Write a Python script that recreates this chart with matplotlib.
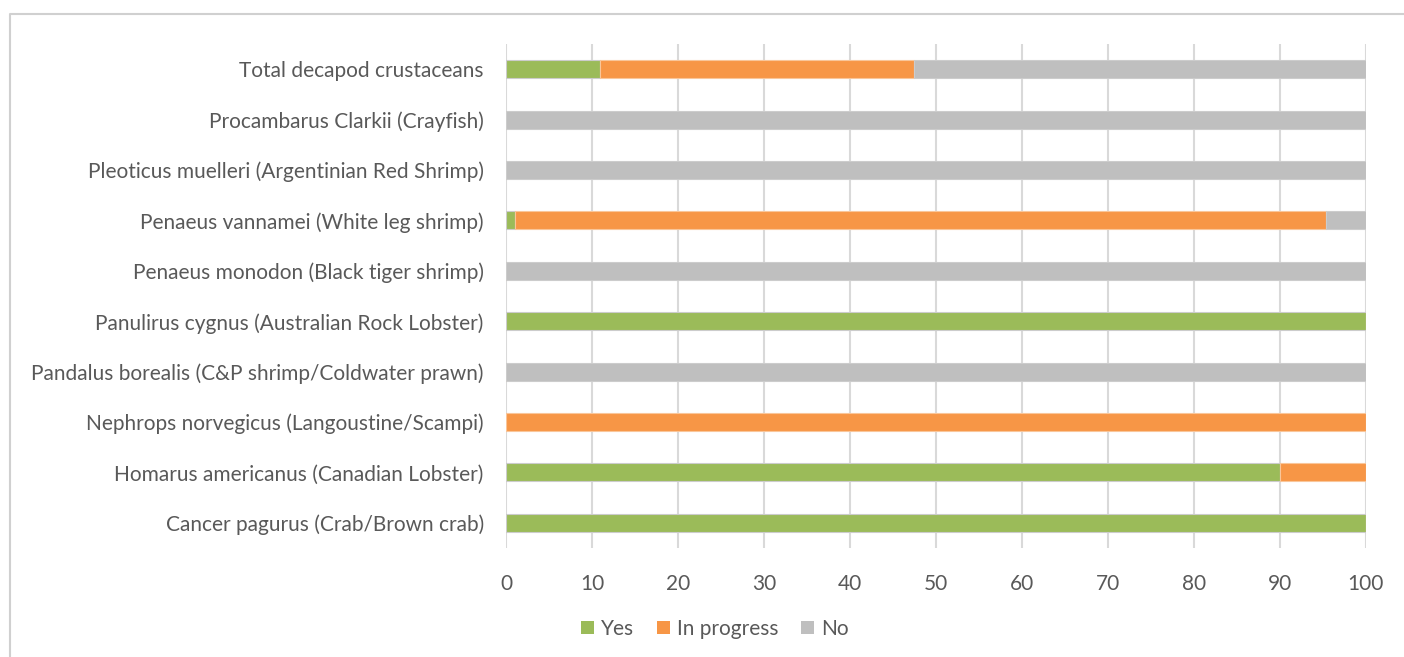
import matplotlib.pyplot as plt
from matplotlib.lines import Line2D
from matplotlib.patches import Patch

# --- Data (bottom to top) ---
species = [
    'Cancer pagurus (Crab/Brown crab)',
    'Homarus americanus (Canadian Lobster)',
    'Nephrops norvegicus (Langoustine/Scampi)',
    'Pandalus borealis (C&P shrimp/Coldwater prawn)',
    'Panulirus cygnus (Australian Rock Lobster)',
    'Penaeus monodon (Black tiger shrimp)',
    'Penaeus vannamei (White leg shrimp)',
    'Pleoticus muelleri (Argentinian Red Shrimp)',
    'Procambarus Clarkii (Crayfish)',
    'Total decapod crustaceans',
]
yes = [100, 90, 0, 0, 100, 0, 1, 0, 0, 10.9]
in_progress = [0, 10, 100, 0, 0, 0, 94.4, 0, 0, 36.5]
no = [0, 0, 0, 100, 0, 100, 4.6, 100, 100, 52.6]

c_yes = '#9bbb59'
c_prog = '#f79646'
c_no = '#bfbfbf'
txt = '#595959'

plt.rcParams['font.family'] = ['Lato', 'DejaVu Sans']

fig = plt.figure(figsize=(14.04, 6.57), dpi=100)
ax = fig.add_axes([0.3604, 0.1659, 0.6125, 0.7671])

y = range(len(species))
h = 0.36
left2 = [a + b for a, b in zip(yes, in_progress)]
ax.barh(y, yes, height=h, color=c_yes, edgecolor='#cccccc', linewidth=0.8, zorder=3)
ax.barh(y, in_progress, left=yes, height=h, color=c_prog, edgecolor='#f9c69a', linewidth=0.8, zorder=3)
ax.barh(y, no, left=left2, height=h, color=c_no, edgecolor='#cccccc', linewidth=0.8, zorder=3)

ax.set_xlim(0, 100)
ax.set_ylim(-0.5, len(species) - 0.5)
ax.set_xticks(range(0, 101, 10))
ax.set_yticks(list(y))
ax.set_yticklabels(species)
ax.tick_params(axis='both', length=0, labelsize=15, colors=txt)
ax.tick_params(axis='y', pad=16)
ax.tick_params(axis='x', pad=19)
ax.grid(axis='x', color='#d9d9d9', linewidth=1.5, zorder=0)
for s in ax.spines.values():
    s.set_visible(False)

handles = [Patch(facecolor=c_yes, edgecolor='none'),
           Patch(facecolor=c_prog, edgecolor='none'),
           Patch(facecolor=c_no, edgecolor='none')]
fig.legend(handles, ['Yes', 'In progress', 'No'], loc='center',
           bbox_to_anchor=(715 / 1404, 1 - 629 / 657), ncol=3, frameon=False,
           fontsize=15, labelcolor=txt, handlelength=0.6, handleheight=0.6,
           handletextpad=0.35, columnspacing=1.1)

# chart area border
fig.add_artist(Line2D([10 / 1404, 10 / 1404, 1.0], [0.0, 1 - 14 / 657, 1 - 14 / 657],
                      transform=fig.transFigure, color='#d0d0d0', linewidth=1.5))

fig.savefig('out.png', dpi=100)
